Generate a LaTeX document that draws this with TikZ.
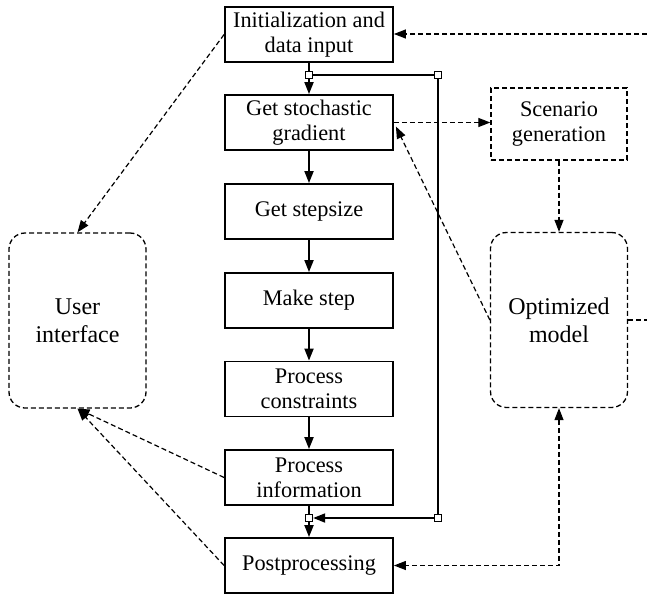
\documentclass[tikz,border=0pt]{standalone}
\usepackage{fontspec}
\setmainfont{Liberation Serif}
\usetikzlibrary{arrows.meta,calc}
\begin{document}
\begin{tikzpicture}[x=1pt,y=-1pt,
  stepbox/.style={draw,line width=1.8pt,minimum width=168pt,minimum height=55pt,
    inner sep=0pt,align=center,font=\fontsize{22.3}{25}\selectfont},
  dashbox/.style={draw,line width=1.3pt,dash pattern=on 5pt off 3pt,align=center,inner sep=0pt},
  roundbox/.style={dashbox,rounded corners=16pt,minimum width=137pt,minimum height=175pt,
    font=\fontsize{24}{28}\selectfont},
  tip/.tip={Triangle[length=12pt,width=9pt]},
  flow/.style={line width=1.8pt,-tip},
  link/.style={line width=1.8pt},
  info/.style={line width=1.2pt,dash pattern=on 5pt off 3pt,-tip},
  infoboth/.style={line width=1.2pt,dash pattern=on 5pt off 3pt,tip-tip},
  plain/.style={line width=1.2pt,dash pattern=on 5pt off 3pt},
  joint/.style={draw,line width=1.3pt,fill=white,minimum size=7pt,inner sep=0pt}]
\useasboundingbox (0,0) rectangle (647,594);

% main processing chain
\node[stepbox] (init) at (309,34.5) {Initialization and\\data input};
\node[stepbox] (grad) at (309,122.5) {Get stochastic\\gradient};
\node[stepbox] (size) at (309,211.5) {Get stepsize};
\node[stepbox] (make) at (309,300.5) {Make step};
\node[stepbox] (cons) at (309,389) {Process\\constraints};
\node[stepbox] (pinf) at (309,477.5) {Process\\information};
\node[stepbox] (post) at (309,565.5) {Postprocessing};

% side blocks
\node[dashbox,minimum width=136pt,minimum height=72pt,font=\fontsize{22.3}{25}\selectfont] (scen) at (559,124) {Scenario\\generation};
\node[roundbox] (model) at (559,320) {Optimized\\model};
\node[roundbox] (ui) at (77.5,320.5) {User\\interface};

% loop junctions
\coordinate (j1p) at (309,75);
\coordinate (j2p) at (438,75);
\coordinate (j3p) at (438,518);
\coordinate (j4p) at (309,518);

% solid flow arrows
\draw[flow] (init) -- (grad);
\draw[flow] (grad) -- (size);
\draw[flow] (size) -- (make);
\draw[flow] (make) -- (cons);
\draw[flow] (cons) -- (pinf);
\draw[flow] (pinf) -- (post);

% iteration loop
\node[joint] (j1) at (j1p) {};
\node[joint] (j2) at (j2p) {};
\node[joint] (j3) at (j3p) {};
\node[joint] (j4) at (j4p) {};
\draw[link] (j1) -- (j2);
\draw[link] (j2) -- (j3);
\draw[flow] (j3) -- (j4);

% information links
\draw[info] (init.west) -- (ui.north);
\draw[info] (pinf.west) -- (ui.south);
\draw[info] (post.west) -- (ui.south);
\draw[info] (grad.east) -- (grad.east -| scen.west);
\draw[info] (model.west) -- ($(grad.east)+(2,4)$);
\draw[info] (scen) -- (model);
\draw[infoboth] (model.south) |- (post.east);

% feedback leaving to the right
\coordinate (outR) at (647,320);
\coordinate (inR) at (647,34);
\draw[plain] (model.east) -- (outR);
\draw[info] (inR) -- (inR -| init.east);
\end{tikzpicture}
\end{document}
